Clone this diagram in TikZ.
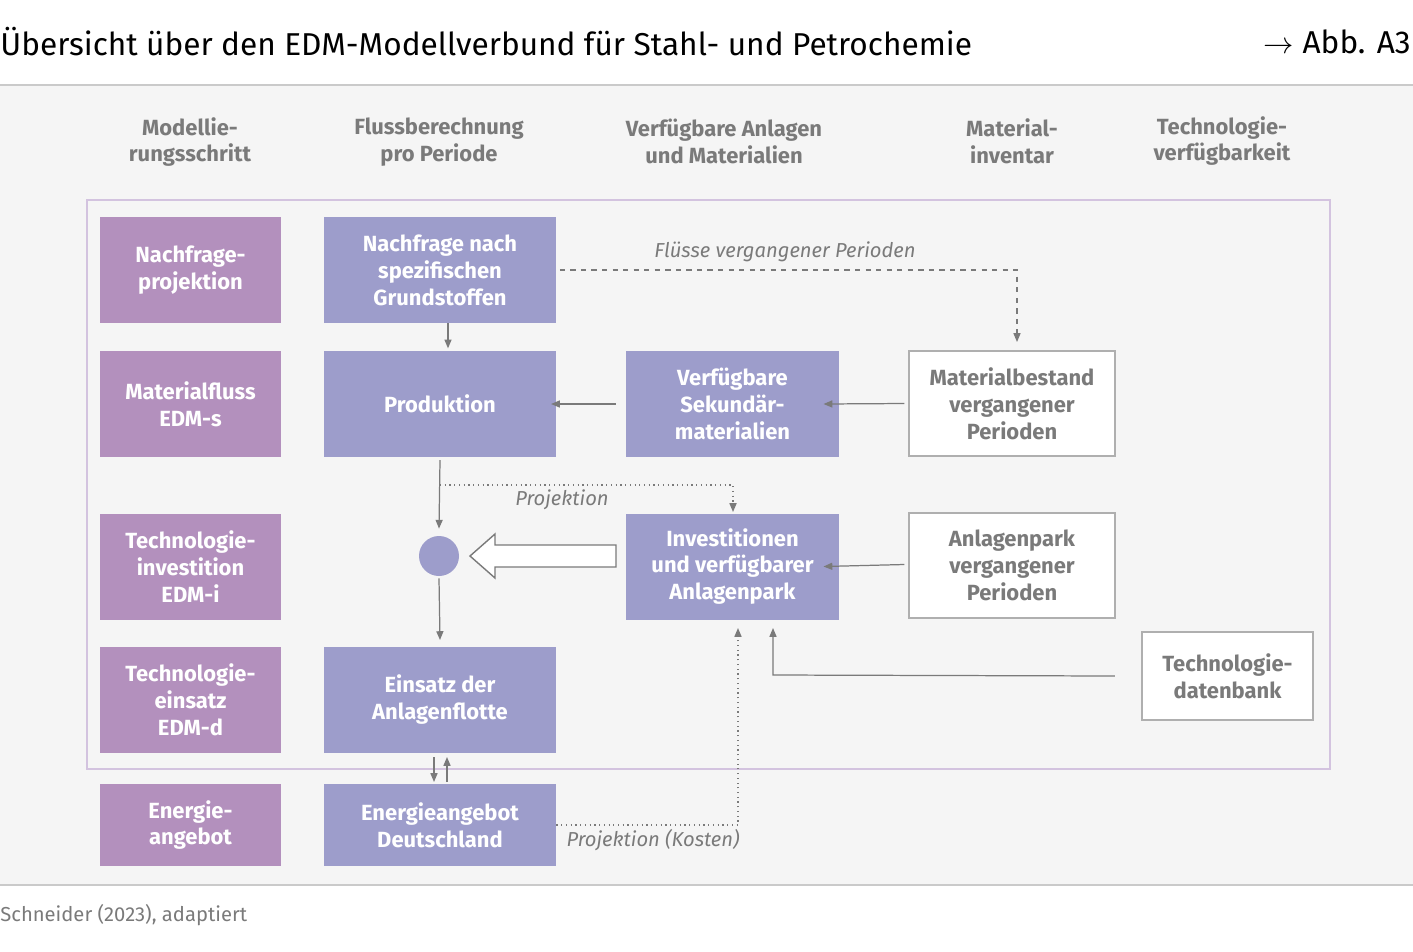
\documentclass[tikz,border=0pt]{standalone}
\usepackage{fontspec}
\setmainfont{Fira Sans}
\usetikzlibrary{positioning,arrows.meta}
\definecolor{lila}{HTML}{B390BD}
\definecolor{blau}{HTML}{9D9DCB}
\definecolor{rahmen}{HTML}{D3C3DF}
\definecolor{grau}{HTML}{7A7A7A}
\definecolor{hinter}{HTML}{F5F5F5}
\begin{document}
\begin{tikzpicture}[x=0.02cm,y=-0.02cm,>={Triangle[length=5pt,width=4pt]},
                    font=\fontsize{12.5}{15.3}\selectfont\bfseries]
  \tikzstyle{schritt}=[fill=lila,text=white,minimum width=3.62cm,minimum height=2.12cm,align=center,inner sep=0pt]
  \tikzstyle{fluss}=[fill=blau,text=white,minimum width=4.64cm,minimum height=2.12cm,align=center,inner sep=0pt]
  \tikzstyle{anlage}=[fill=blau,text=white,minimum width=4.26cm,minimum height=2.12cm,align=center,inner sep=0pt]
  \tikzstyle{inventar}=[draw=grau!60,line width=0.8pt,fill=white,text=grau,minimum width=4.12cm,minimum height=2.1cm,align=center,inner sep=0pt]
  \tikzstyle{kopf}=[text=grau,align=center]
  \tikzstyle{pfeil}=[->,draw=grau,line width=0.7pt]
  \tikzstyle{notiz}=[text=grau,font=\fontsize{11.5}{14}\selectfont\itshape]

  \useasboundingbox (0,0) rectangle (1413,951);
  \fill[hinter] (0,85) rectangle (1413,885);
  \draw[grau!40,line width=0.8pt] (0,85) -- (1413,85) (0,885) -- (1413,885);
  \node[anchor=west,inner sep=0pt,font=\fontsize{18}{22}\selectfont] (titel) at (0,42) {Übersicht über den EDM-Modellverbund für Stahl- und Petrochemie};
  \node[anchor=east,inner sep=0pt,font=\fontsize{18}{22}\selectfont] (abb) at (1411,42) {$\rightarrow$ Abb. A3};
  \node[anchor=west,inner sep=0pt,text=grau,font=\fontsize{11.5}{14}\selectfont] (quelle) at (0,915) {Schneider (2023), adaptiert};

  % Spaltenkoepfe
  \node[kopf] (k1) at (190,142) {Modellie-\\rungsschritt};
  \node[kopf] (k2) at (439,142) {Flussberechnung\\pro Periode};
  \node[kopf] (k3) at (724,141) {Verfügbare Anlagen\\und Materialien};
  \node[kopf] (k4) at (1012,141) {Material-\\inventar};
  \node[kopf] (k5) at (1222,141) {Technologie-\\verfügbarkeit};

  \draw[rahmen,line width=1.5pt] (87,200) rectangle (1330,769);

  % Modellierungsschritte
  \node[schritt] (nproj) at (190.5,270)   {Nachfrage-\\projektion};
  \node[schritt] (edms)  at (190.5,404)   {Materialfluss\\EDM-s};
  \node[schritt] (edmi)  at (190.5,566.5) {Technologie-\\investition\\EDM-i};
  \node[schritt] (edmd)  at (190.5,699.5) {Technologie-\\einsatz\\EDM-d};
  \node[schritt,minimum height=1.64cm] (energie) at (190.5,825) {Energie-\\angebot};

  % Flussberechnung
  \node[fluss] (nachfrage) at (440,270)   {Nachfrage nach\\spezifischen\\Grundstoffen};
  \node[fluss] (prod)      at (440,404)   {Produktion};
  \node[fluss] (einsatz)   at (440,699.5) {Einsatz der\\Anlagenflotte};
  \node[fluss,minimum height=1.64cm] (angebot) at (440,825) {Energieangebot\\Deutschland};
  \node[circle,fill=blau,minimum size=0.8cm,inner sep=0pt] (punkt) at (439,556) {};

  \node[anlage] (sekundaer) at (732.5,404)   {Verfügbare\\Sekundär-\\materialien};
  \node[anlage] (invest)    at (732.5,566.5) {Investitionen\\und verfügbarer\\Anlagenpark};

  \node[inventar] (bestand) at (1012,403.5) {Materialbestand\\vergangener\\Perioden};
  \node[inventar] (park)    at (1012,565.5) {Anlagenpark\\vergangener\\Perioden};
  \node[inventar,minimum width=3.42cm,minimum height=1.76cm] (techdb) at (1227.5,676) {Technologie-\\datenbank};

  \coordinate (c1) at (1017,270);
  \coordinate (c2) at (733,485);
  \coordinate (c3) at (773,675);
  \coordinate (c4) at (738,825);

  \draw[pfeil] (nachfrage.south -| 448,0) -- ++(0,25);
  \draw[pfeil] (sekundaer.west) ++(-10,0) -- ([xshift=-3]prod.east);
  \draw[pfeil] (bestand.west) ++(-4,0) -- ([xshift=-9]sekundaer.east);
  \draw[pfeil] (park.west) ++(-4,-1) -- ([xshift=-9]invest.east);
  \draw[pfeil] (440,460) -- ([yshift=4]punkt.north);
  \draw[pfeil] (punkt.south) ++(0,2) -- (440,640);
  \draw[pfeil] (434,757) -- (434,782);
  \draw[pfeil] (447,782) -- (447,757);
  \draw[pfeil] ([xshift=-15]techdb.west) -- (c3) -- (773,628);
  \draw[pfeil,dashed,line width=0.6pt] ([xshift=2]nachfrage.east |- c1) -- (c1) -- (1017,342);
  \draw[pfeil,dotted,line width=0.8pt] (440,485) -- (c2) -- (733,512);
  \draw[pfeil,dotted,line width=0.8pt] (angebot.east |- c4) -- (c4) -- (738,628);
  \draw[grau,line width=0.8pt,fill=white] (616,545) -- (495,545) -- (495,534) -- (470,556)
        -- (495,578) -- (495,567) -- (616,567) -- cycle;

  \node[notiz] (n1) at (785,252) {Flüsse vergangener Perioden};
  \node[notiz] (n2) at (562,500) {Projektion};
  \node[notiz] (n3) at (653,840) {Projektion (Kosten)};
\end{tikzpicture}
\end{document}
